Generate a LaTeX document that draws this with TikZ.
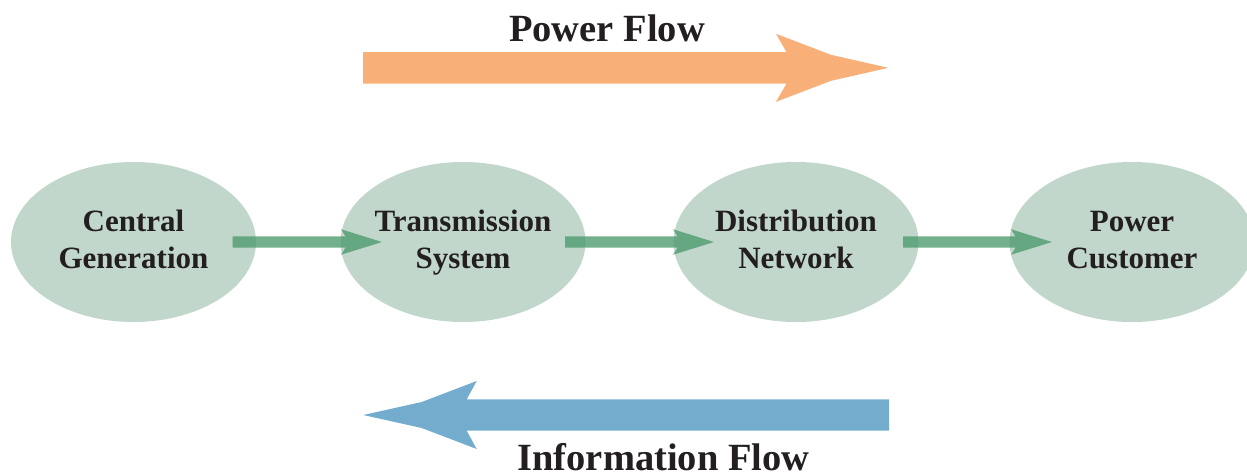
\documentclass[tikz,border=0pt]{standalone}
\usepackage{fontspec}
\setmainfont{Liberation Serif}
\usetikzlibrary{shapes.geometric,calc}
\definecolor{nodefill}{RGB}{194,215,203}
\definecolor{linkgreen}{RGB}{76,154,108}
\definecolor{powerorange}{RGB}{248,175,120}
\definecolor{infoblue}{RGB}{116,172,205}
\definecolor{ink}{RGB}{35,31,32}
\begin{document}
\begin{tikzpicture}[x=1pt,y=-1pt,
  stage/.style={ellipse, fill=nodefill, minimum width=245pt, minimum height=160pt, inner sep=0pt},
  % fixed box size so every two-line label sits at the same baselines
  stagetext/.style={text=ink, font=\fontsize{31}{37}\selectfont\bfseries, align=center,
    inner sep=0pt, text height=56pt, text depth=4pt},
  % a thick arrow drawn as one closed outline, so its translucent fill has no overlaps
  link/.style={fill=linkgreen, fill opacity=0.78, to path={
    let \p1=(\tikztostart), \p2=(\tikztotarget) in
    (\x1,\y1+5.65pt) -- (\x2-36.5pt,\y1+5.65pt) -- (\x2-41pt,\y1+12.75pt) -- (\x2,\y2)
    -- (\x2-41pt,\y1-12.75pt) -- (\x2-36.5pt,\y1-5.65pt) -- (\x1,\y1-5.65pt) -- cycle}},
  heading/.style={text=ink, font=\fontsize{38.5}{46}\selectfont\bfseries, anchor=base, inner sep=0pt}]
\useasboundingbox (0,0) rectangle (1247,475);

% power flow arrow (left to right)
\fill[powerorange] (363,52.1) -- (786.5,52.1) -- (776,33.8) -- (831,54.8) -- (888.3,67.8)
  -- (831,80.8) -- (776,101.8) -- (786.5,83.5) -- (363,83.5) -- cycle;
\node[heading] (powerflow) at (607,41) {Power Flow};

% information flow arrow (right to left)
\fill[infoblue] (889,399.3) -- (466.7,399.3) -- (476.7,381) -- (421.7,402) -- (363.3,415)
  -- (421.7,428) -- (476.7,449) -- (466.7,430.7) -- (889,430.7) -- cycle;
\node[heading] (infoflow) at (663.5,470) {Information Flow};

% stages of the supply chain
\node[stage] (gen)  at (133.5,242) {};
\node[stage] (tx)   at (463,242) {};
\node[stage] (dist) at (796,242) {};
\node[stage] (cust) at (1132,242) {};

% links between stages
\path[link] ([xshift=99pt]gen.center) to ([xshift=-81pt]tx.center);
\path[link] ([xshift=102pt]tx.center) to ([xshift=-82pt]dist.center);
\path[link] ([xshift=107pt]dist.center) to ([xshift=-80pt]cust.center);

% stage labels
\node[stagetext] (genlabel)  at (gen)  {Central\\Generation};
\node[stagetext] (txlabel)   at (tx)   {Transmission\\System};
\node[stagetext] (distlabel) at (dist) {Distribution\\Network};
\node[stagetext] (custlabel) at (cust) {Power\\Customer};
\end{tikzpicture}
\end{document}
